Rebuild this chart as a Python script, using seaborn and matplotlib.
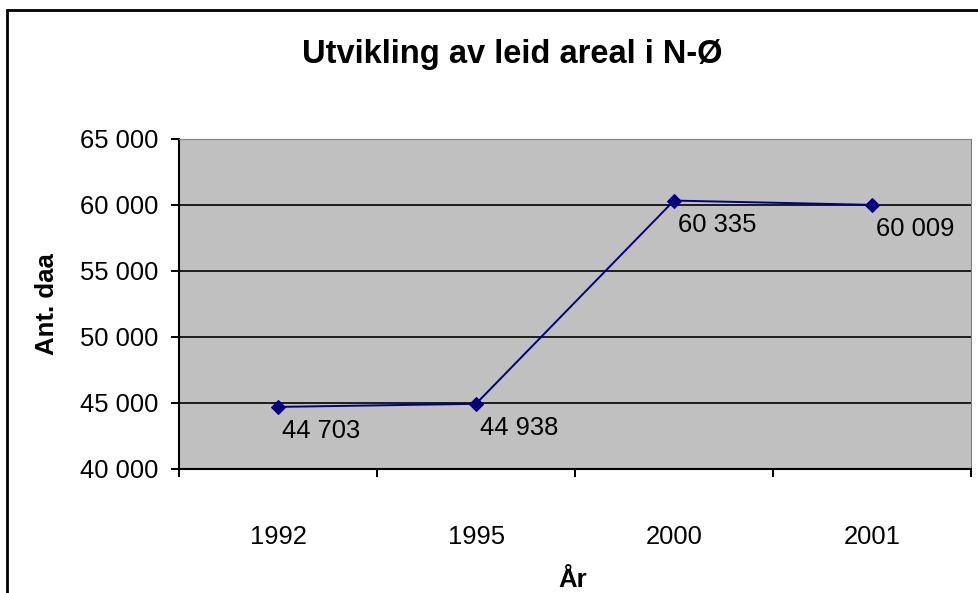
"""Utvikling av leid areal i N-Ø."""

import matplotlib.pyplot as plt
import matplotlib.patches as mpatches
import pandas as pd
import seaborn as sns

years = ['1992', '1995', '2000', '2001']
areal = [44703, 44938, 60335, 60009]
y_ticks = [40000, 45000, 50000, 55000, 60000, 65000]

LINE = '#000080'
FONT = ['Liberation Sans', 'DejaVu Sans']


def fmt(v):
    return f'{v:,}'.replace(',', ' ')


def _main():
    sns.set_style('white')
    plt.rcParams['font.family'] = FONT
    plt.rcParams['text.color'] = 'black'
    plt.rcParams['xtick.color'] = 'black'
    plt.rcParams['ytick.color'] = 'black'

    df = pd.DataFrame({'year': years, 'areal': areal})
    fig = plt.figure(figsize=(9.79, 5.93), dpi=100)
    ax = fig.add_axes([179 / 979, 1 - 469 / 593, 792 / 979, 330 / 593])
    ax.set_facecolor('#C0C0C0')

    pos = list(range(len(years)))
    sns.lineplot(x=pos, y=df['areal'], ax=ax, color=LINE, linewidth=1.4,
                 marker='D', markersize=7.5, markeredgecolor=LINE, zorder=3)

    for x, v in zip(pos, areal):
        ax.annotate(fmt(v), (x, v), xytext=(3, -9), textcoords='offset points',
                    ha='left', va='top', fontsize=18.4, color='black')

    ax.set_ylim(40000, 65000)
    ax.set_yticks(y_ticks)
    ax.set_yticklabels([fmt(v) for v in y_ticks])
    ax.set_xlim(-0.5, len(years) - 0.5)
    ax.set_xticks(pos)
    ax.set_xticklabels(years)
    ax.set_xticks([p - 0.5 for p in pos] + [len(years) - 0.5], minor=True)
    ax.tick_params(axis='x', which='major', length=0, pad=40, labelsize=18.4,
                   labelcolor='black')
    ax.tick_params(axis='x', which='minor', length=6, width=1.4, direction='out',
                   color='black', bottom=True)
    ax.tick_params(axis='y', length=6, width=1.4, direction='out', pad=9,
                   labelsize=18.4, color='black', labelcolor='black', left=True)

    for v in y_ticks[1:-1]:
        ax.axhline(v, color='black', linewidth=1.2, zorder=1)

    ax.spines['left'].set_color('black')
    ax.spines['bottom'].set_color('black')
    ax.spines['left'].set_linewidth(1.5)
    ax.spines['bottom'].set_linewidth(1.5)
    ax.spines['top'].set_color('#808080')
    ax.spines['right'].set_color('#808080')
    ax.set_xlabel('')
    ax.set_ylabel('')

    fig.text(512 / 979, 1 - 55 / 593, 'Utvikling av leid areal i N-Ø',
             ha='center', va='center', fontsize=23.5, fontweight='bold',
             color='black')
    fig.text(47 / 979, 1 - 304 / 593, 'Ant. daa', rotation=90,
             ha='center', va='center', fontsize=18.5, fontweight='bold',
             color='black')
    fig.text(573 / 979, 1 - 580 / 593, 'År',
             ha='center', va='center', fontsize=18.5, fontweight='bold',
             color='black')

    fig.patches.append(mpatches.Rectangle(
        (7 / 979, -0.2), 1.2, 1.2 - 10 / 593, transform=fig.transFigure,
        fill=False, edgecolor='black', linewidth=2, clip_on=False))

    fig.savefig('out.png', dpi=100)
    plt.close(fig)


if __name__ == '__main__':
    _main()
